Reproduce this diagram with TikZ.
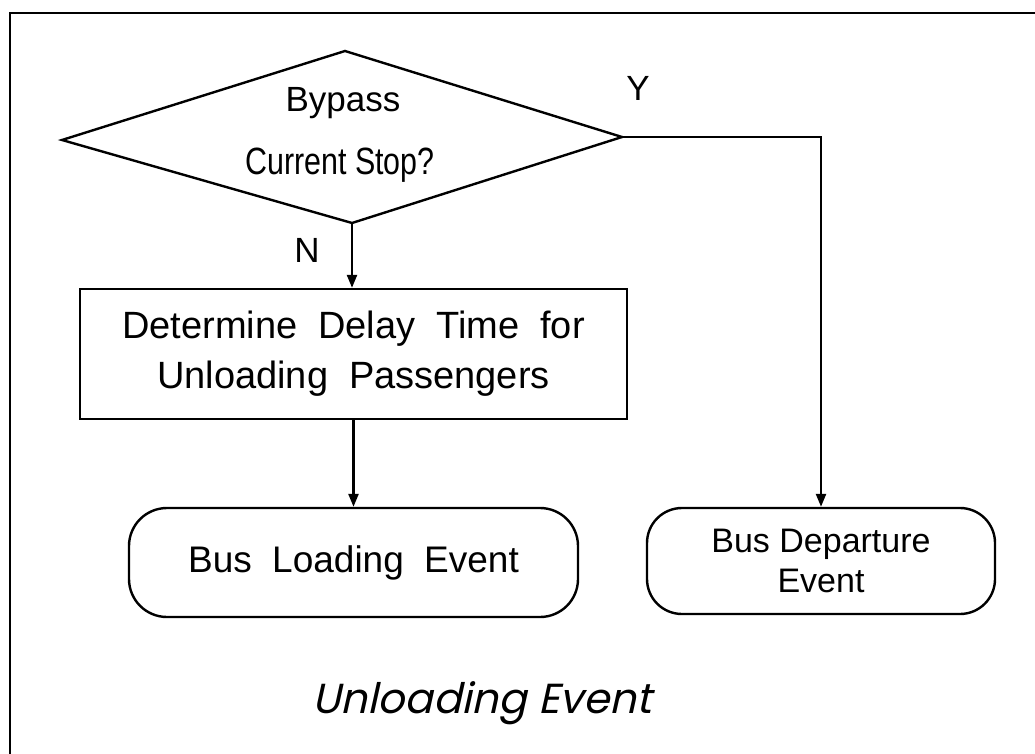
\documentclass[tikz,border=0pt]{standalone}
\usepackage{fontspec}
\setmainfont{Liberation Sans}
\newfontfamily\titlefont[FakeSlant=0.22]{Poppins}
\usetikzlibrary{arrows.meta}
\newcommand\wsp{\hspace{0.55em}}
\begin{document}
\begin{tikzpicture}[x=1pt,y=-1pt,line width=2.4pt,
  conn/.style={-{Triangle[length=13pt,width=10pt]}},
  boxtext/.style={font=\fontsize{38}{50}\selectfont},
  lbl/.style={font=\fontsize{35}{40}\selectfont},
  procbox/.style={draw,rectangle,inner sep=0pt,align=center},
  eventbox/.style={draw,rectangle,inner sep=0pt,align=center}]
\useasboundingbox (0,0) rectangle (1035,754);
% outer frame (right and bottom edges lie outside the picture)
\draw (10,780) -- (10,13) -- (1060,13);
% decision diamond
\coordinate (dl) at (62,140);
\coordinate (dt) at (345,51);
\coordinate (dr) at (622,137);
\coordinate (db) at (352,223);
\draw (dl) -- (dt) -- (dr) -- (db) -- cycle;
\node[lbl,anchor=base] (bypass) at (343,112) {Bypass};
\node[font=\fontsize{38}{40}\selectfont,anchor=base] (curstop) at (340,175) {\scalebox{0.8}[1]{Current Stop?}};
\node[lbl] (ylab) at (638,88) {Y};
\node[lbl] (nlab) at (307,250) {N};
% process box
\node[procbox,boxtext,minimum width=547pt,minimum height=130pt] (det) at (353.5,354)
  {Determine\wsp Delay\wsp Time\wsp for\\Unloading\wsp Passengers};
% event boxes
\node[eventbox,font=\fontsize{37}{50}\selectfont,rounded corners=38pt,minimum width=449pt,minimum height=109pt] (load) at (353.5,562.5)
  {Bus\wsp Loading\wsp Event};
\node[eventbox,font=\fontsize{34}{40}\selectfont,rounded corners=35pt,minimum width=348pt,minimum height=106pt] (dep) at (821,561)
  {Bus Departure\\Event};
% connectors
\draw[conn] (db) -- (db |- det.north);
\draw[conn] (det.south) -- (det.south |- load.north);
\draw[conn] (dr) -- (dep.north |- dr) -- (dep.north);
% title
\node[font=\titlefont\fontsize{42}{48}\selectfont,anchor=base] (title) at (482,713) {Unloading Event};
\end{tikzpicture}
\end{document}
